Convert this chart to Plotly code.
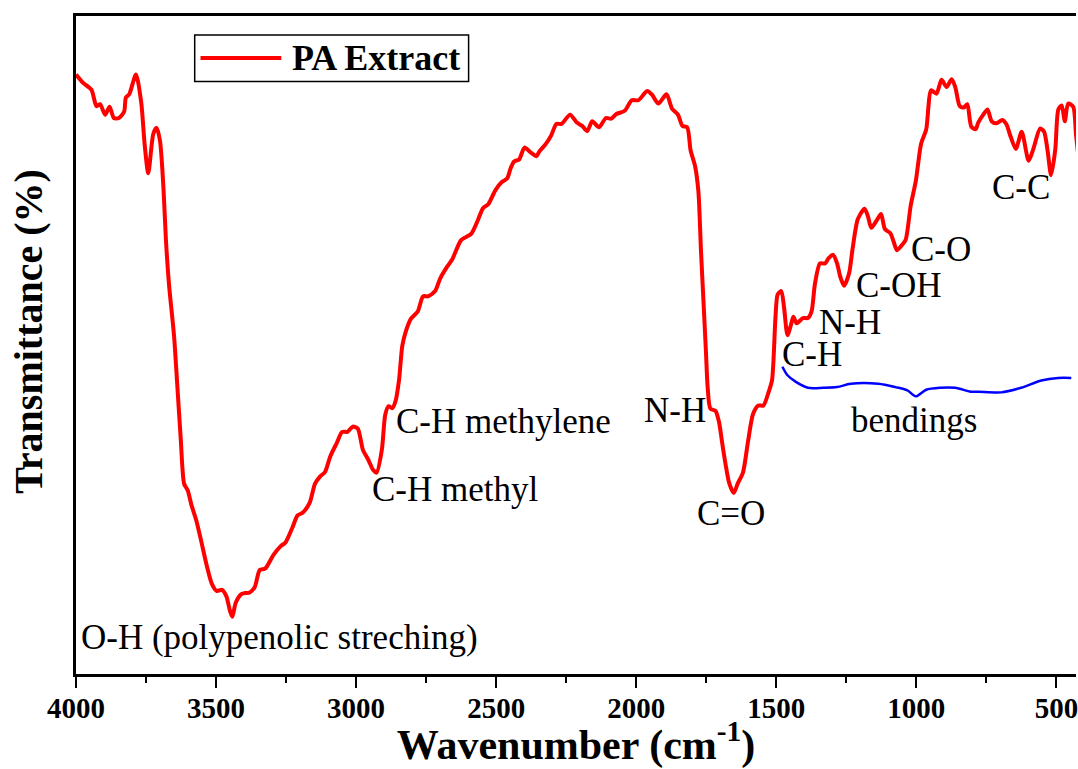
import plotly.graph_objects as go

# FTIR spectrum of the PA extract (wavenumber in cm-1, transmittance in %)
wavenumber = [
    4000, 3976, 3945, 3927, 3914, 3896, 3880, 3865, 3847, 3828,
    3822, 3810, 3786, 3767, 3755, 3742, 3724, 3712, 3700, 3687,
    3679, 3668, 3650, 3638, 3626, 3614, 3601, 3588, 3571, 3553,
    3534, 3515, 3497, 3479, 3463, 3451, 3442, 3430, 3411, 3397,
    3380, 3362, 3344, 3325, 3295, 3270, 3252, 3227, 3209, 3191,
    3166, 3147, 3129, 3111, 3092, 3068, 3050, 3031, 3012, 2994,
    2976, 2957, 2939, 2927, 2908, 2896, 2884, 2871, 2859, 2847,
    2835, 2823, 2804, 2780, 2761, 2743, 2718, 2700, 2675, 2657,
    2626, 2608, 2589, 2565, 2547, 2528, 2503, 2479, 2461, 2448,
    2436, 2418, 2399, 2375, 2356, 2346, 2322, 2303, 2285, 2267,
    2236, 2212, 2193, 2175, 2157, 2133, 2108, 2089, 2071, 2041,
    2016, 1992, 1961, 1943, 1921, 1892, 1872, 1851, 1835, 1818,
    1806, 1790, 1778, 1769, 1760, 1751, 1745, 1735, 1717, 1705,
    1692, 1680, 1668, 1652, 1637, 1619, 1601, 1583, 1564, 1546,
    1527, 1515, 1503, 1495, 1482, 1472, 1460, 1448, 1439, 1427,
    1405, 1387, 1374, 1362, 1344, 1326, 1313, 1297, 1283, 1271,
    1258, 1240, 1228, 1209, 1185, 1173, 1161, 1142, 1126, 1112,
    1093, 1081, 1069, 1051, 1038, 1020, 1002, 983, 965, 947,
    928, 910, 892, 874, 861, 845, 830, 818, 804, 788,
    779, 761, 746, 731, 714, 693, 678, 666, 645, 624,
    599, 583, 558, 544, 531, 519, 504, 493, 481, 470,
    458, 440, 430, 420,
]
transmittance = [
    91.1, 89.9, 88.8, 86.3, 86.6, 85.0, 86.2, 84.5, 84.5, 85.5,
    87.6, 88.1, 91.1, 86.8, 80.5, 76.1, 82.1, 83.0, 81.0, 73.2,
    66.0, 59.2, 51.4, 43.6, 35.7, 28.9, 27.9, 25.7, 23.4, 20.2,
    16.6, 13.7, 12.6, 12.8, 11.8, 9.7, 8.7, 10.8, 12.1, 12.3,
    12.4, 13.2, 15.8, 16.0, 18.1, 19.4, 20.0, 22.3, 24.1, 24.5,
    26.0, 28.9, 30.0, 30.7, 33.1, 35.2, 36.8, 36.8, 37.6, 37.3,
    34.1, 32.6, 31.0, 30.6, 34.1, 39.4, 40.7, 40.4, 41.5, 44.6,
    49.9, 52.0, 54.0, 55.1, 57.4, 57.4, 58.2, 60.1, 61.9, 63.0,
    65.9, 66.4, 66.9, 69.0, 70.8, 71.4, 73.5, 74.8, 75.3, 76.9,
    77.9, 78.2, 80.0, 79.2, 78.7, 79.4, 80.6, 81.9, 83.6, 83.6,
    85.0, 83.8, 83.3, 82.5, 84.0, 83.1, 84.5, 84.4, 85.1, 85.6,
    87.2, 87.2, 88.6, 88.0, 86.7, 88.1, 85.9, 85.0, 83.3, 83.1,
    79.6, 77.2, 73.3, 64.5, 56.7, 48.9, 43.6, 40.3, 40.0, 38.4,
    34.8, 31.6, 29.0, 27.5, 29.0, 30.6, 35.3, 39.5, 40.8, 40.8,
    42.9, 44.7, 54.1, 57.7, 58.2, 55.6, 51.5, 53.0, 54.3, 53.3,
    54.1, 54.1, 55.1, 59.3, 62.4, 62.4, 63.2, 63.7, 62.4, 60.3,
    59.0, 60.9, 64.5, 69.1, 70.7, 69.6, 67.8, 68.9, 69.9, 67.6,
    67.0, 65.7, 64.4, 65.2, 66.0, 71.2, 74.9, 80.6, 82.7, 88.7,
    88.2, 90.3, 89.2, 90.4, 89.2, 86.3, 86.1, 86.6, 83.2, 82.8,
    83.8, 85.0, 85.8, 84.0, 83.7, 84.2, 83.5, 82.0, 79.8, 82.4,
    78.0, 79.7, 82.9, 82.4, 79.4, 75.8, 79.7, 85.8, 86.4, 84.0,
    86.7, 86.2, 82.0, 78.0,
]

# Brace marking the bending region
brace_wn = [1478, 1460, 1430, 1387, 1332, 1283, 1234, 1136, 1075, 1032, 1002,
            965, 916, 861, 806, 779, 697, 626, 554, 494, 447]
brace_t = [46.7, 45.4, 44.4, 43.5, 43.5, 43.6, 44.1, 44.1, 43.6, 43.1, 42.2,
           43.2, 43.5, 43.5, 42.9, 42.9, 42.8, 43.5, 44.6, 45.0, 45.0]

# Band assignments: (text, wavenumber of left edge, transmittance level)
band_labels = [
    ("O-H (polypenolic streching)", 3988, 5.6),
    ("C-H methylene", 2865, 38.4),
    ("C-H methyl", 2951, 28.0),
    ("N-H", 1979, 40.0),
    ("C=O", 1790, 24.4),
    ("C-H", 1487, 48.5),
    ("N-H", 1356, 53.4),
    ("C-OH", 1222, 59.1),
    ("C-O", 1026, 64.5),
    ("C-C", 737, 73.9),
    ("bendings", 1240, 38.6),
]

SERIF = "Liberation Serif, Times New Roman, serif"

fig = go.Figure()
fig.add_trace(go.Scatter(
    x=wavenumber, y=transmittance, mode="lines", name="PA Extract",
    line=dict(color="#ff0000", width=4, shape="spline", smoothing=0.7),
    showlegend=False,
))
fig.add_trace(go.Scatter(
    x=brace_wn, y=brace_t, mode="lines", name="bendings",
    line=dict(color="#0000ff", width=2.5, shape="spline", smoothing=0.8),
    showlegend=False,
))

for text, xw, yt in band_labels:
    fig.add_annotation(x=xw, y=yt, text=text, showarrow=False,
                       xanchor="left", yanchor="middle",
                       font=dict(family=SERIF, size=35, color="black"))

# Legend box drawn by hand so the line sample is long
fig.add_shape(type="rect", xref="paper", yref="paper",
              x0=0.1187, x1=0.3926, y0=0.9004, y1=0.9711,
              line=dict(color="black", width=1.5), fillcolor="white")
fig.add_shape(type="line", xref="paper", yref="paper",
              x0=0.1245, x1=0.2053, y0=0.9361, y1=0.9361,
              line=dict(color="#ff0000", width=4))
fig.add_annotation(xref="paper", yref="paper", x=0.2136, y=0.9361,
                   text="<b>PA Extract</b>", showarrow=False,
                   xanchor="left", yanchor="middle",
                   font=dict(family=SERIF, size=36, color="black"))

# Y-axis title
fig.add_annotation(xref="paper", yref="paper", x=-0.047, y=0.52,
                   text="<b>Transmittance (%)</b>", textangle=-90,
                   showarrow=False, xanchor="center", yanchor="middle",
                   font=dict(family=SERIF, size=40, color="black"))

fig.update_layout(
    width=1078, height=769,
    margin=dict(l=76, r=0, t=16, b=95),
    paper_bgcolor="white", plot_bgcolor="white",
    font=dict(family=SERIF, color="black"),
    xaxis=dict(
        range=[4000, 430], tick0=0, dtick=500,
        showline=True, linecolor="black", linewidth=2.5, mirror=True,
        ticks="outside", ticklen=11, tickwidth=2, tickcolor="black",
        minor=dict(ticks="outside", ticklen=6, tickwidth=2, dtick=250,
                   tickcolor="black"),
        showgrid=False, zeroline=False,
        ticklabeloverflow="allow", ticklabelstandoff=-5,
        tickfont=dict(family=SERIF, size=29, color="black", weight="bold"),
        title=dict(text="<b>Wavenumber (cm<sup>-1</sup>)</b>",
                   font=dict(family=SERIF, size=42, color="black"),
                   standoff=10),
    ),
    yaxis=dict(
        range=[0, 100], showline=True, linecolor="black", linewidth=2.5,
        ticks="", showticklabels=False, showgrid=False, zeroline=False,
    ),
)

fig.write_html("out.html")
